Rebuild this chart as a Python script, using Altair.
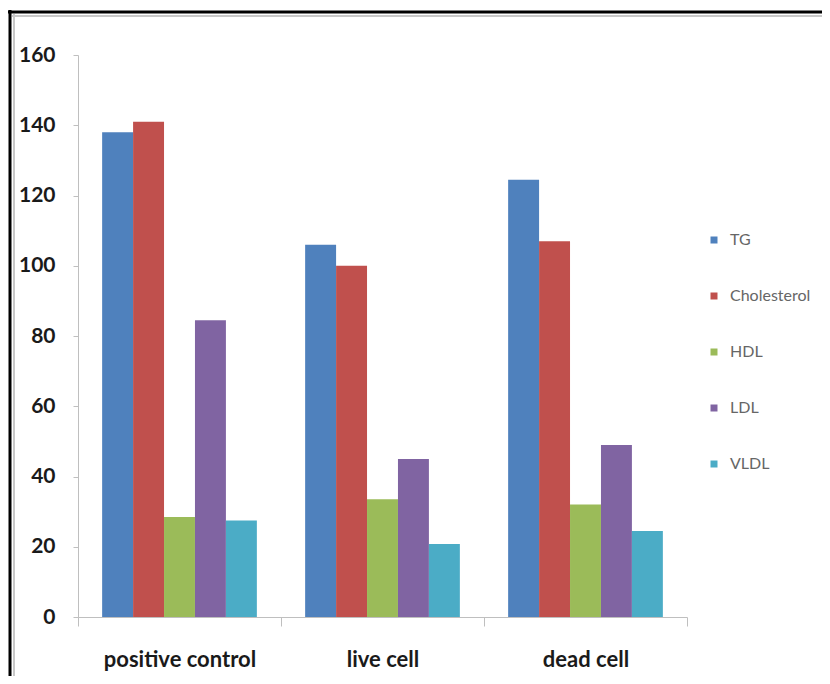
import altair as alt
import pandas as pd

categories = ["positive control", "live cell", "dead cell"]
series = ["TG", "Cholesterol", "HDL", "LDL", "VLDL"]
tg = [138, 106, 124.5]
cholesterol = [141, 100, 107]
hdl = [28.5, 33.5, 32]
ldl = [84.5, 45, 49]
vldl = [27.5, 20.8, 24.5]
colors = ["#4F81BD", "#C0504D", "#9BBB59", "#8064A2", "#4BACC6"]
y_ticks = [0, 20, 40, 60, 80, 100, 120, 140, 160]

rows = []
for s, vals in zip(series, [tg, cholesterol, hdl, ldl, vldl]):
    for c, v in zip(categories, vals):
        rows.append({"category": c, "series": s, "value": v})
df = pd.DataFrame(rows)

W, H = 609, 562
FONT = "Lato"

bars = alt.Chart(df).mark_bar().encode(
    x=alt.X("category:N", sort=categories, title=None,
            scale=alt.Scale(paddingInner=0, paddingOuter=0),
            axis=alt.Axis(labelAngle=0, labelFont=FONT,
                          labelFontSize=22, labelFontWeight="bold", labelColor="#1a1a1a",
                          tickBand="extent", tickSize=9, tickColor="#BFBFBF",
                          domainColor="#BFBFBF", labelPadding=23)),
    xOffset=alt.XOffset("series:N", sort=series,
                        scale=alt.Scale(paddingInner=0, paddingOuter=0.78)),
    y=alt.Y("value:Q", title=None,
            scale=alt.Scale(domain=[0, 160], nice=False),
            axis=alt.Axis(values=y_ticks, grid=False, labelFont=FONT,
                          labelFontSize=21, labelFontWeight="bold", labelColor="#1a1a1a",
                          tickSize=5, tickColor="#BFBFBF", domainColor="#BFBFBF",
                          labelPadding=18)),
    color=alt.Color("series:N", sort=series, title=None,
                    scale=alt.Scale(domain=series, range=colors),
                    legend=alt.Legend(orient="none", legendX=628, legendY=177,
                                      symbolType="square", symbolSize=49,
                                      symbolStrokeWidth=0,
                                      labelFont=FONT, labelFontSize=16,
                                      labelColor="#666666", rowPadding=40,
                                      labelOffset=8)),
)

one = alt.Data(values=[{}])
left_black = alt.Chart(one).mark_rule(color="black", strokeWidth=3).encode(
    x=alt.value(-68), y=alt.value(-45), y2=alt.value(640))
top_black = alt.Chart(one).mark_rule(color="black", strokeWidth=3).encode(
    x=alt.value(-70), x2=alt.value(760), y=alt.value(-43))
left_gray = alt.Chart(one).mark_rule(color="#C8C8C8", strokeWidth=2).encode(
    x=alt.value(-64), y=alt.value(-41), y2=alt.value(640))
top_gray = alt.Chart(one).mark_rule(color="#C8C8C8", strokeWidth=2).encode(
    x=alt.value(-66), x2=alt.value(760), y=alt.value(-39))

chart = alt.layer(bars, left_black, top_black, left_gray, top_gray).properties(
    width=W, height=H,
    autosize=alt.AutoSizeParams(type="none"),
    padding={"left": 70, "top": 47, "right": 135, "bottom": 59},
    background="white",
).configure_view(stroke=None)

chart.save("out.html", embed_options={"renderer": "svg", "actions": False})
